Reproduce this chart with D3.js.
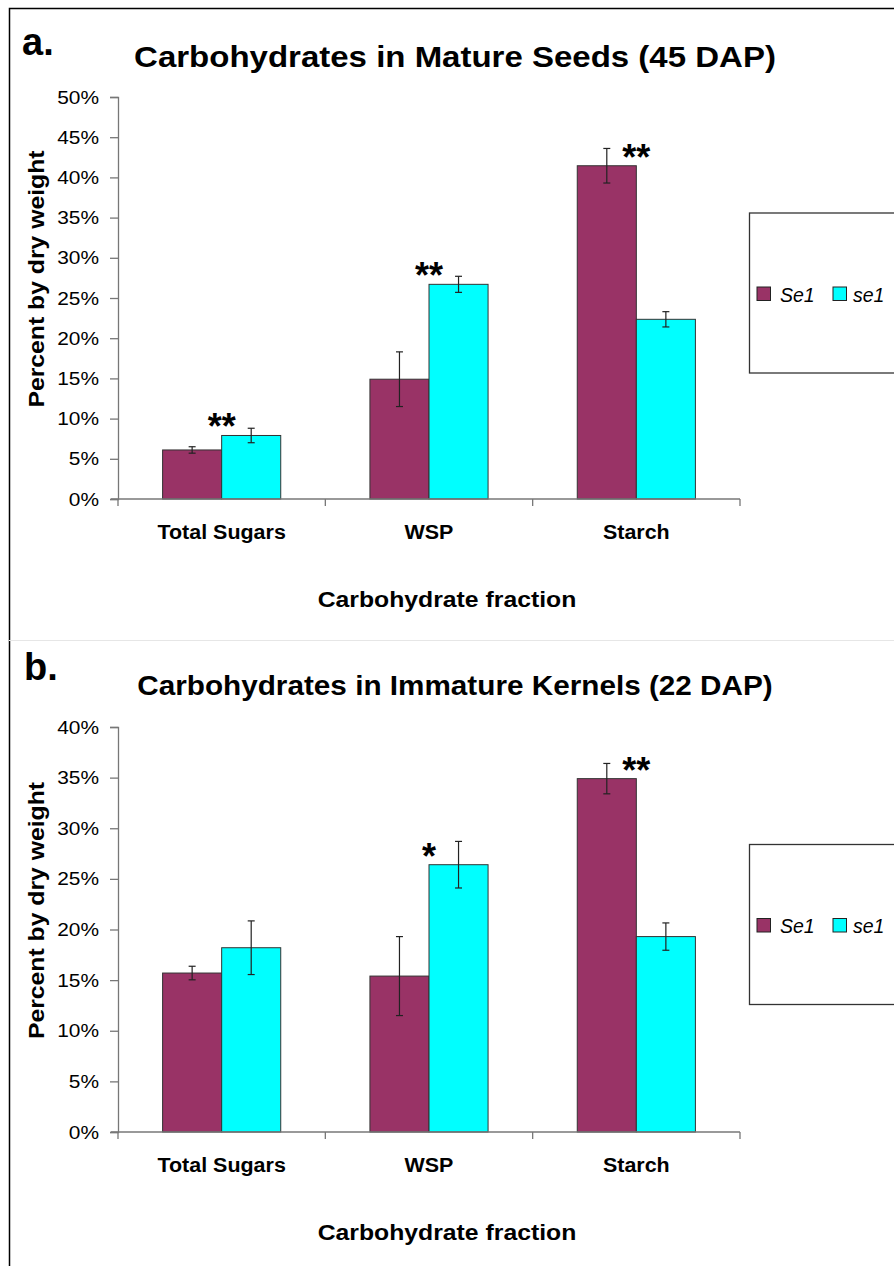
<!DOCTYPE html>
<html>
<head>
<meta charset="utf-8">
<script src="https://cdn.jsdelivr.net/npm/d3@7"></script>
<style>
  body { margin: 0; background: #fff; }
  svg { display: block; font-family: "Liberation Sans", Arial, sans-serif; }
</style>
</head>
<body>
<svg width="894" height="1266"></svg>
<script>
var categories = ['Total Sugars', 'WSP', 'Starch'];
var series = ['Se1', 'se1'];
var colors = ['#993366', '#00ffff'];

// panel a: mature seeds (45 DAP)
var matureMeans = [[6.1, 14.9, 41.45], [7.9, 26.7, 22.35]];
var matureErrs = [[0.4, 3.4, 2.15], [0.9, 1.0, 0.95]];
var matureStars = ['**', '**', '**'];
var matureTicks = [0, 5, 10, 15, 20, 25, 30, 35, 40, 45, 50];

// panel b: immature kernels (22 DAP)
var immatureMeans = [[15.7, 15.4, 34.9], [18.2, 26.4, 19.3]];
var immatureErrs = [[0.67, 3.9, 1.5], [2.65, 2.3, 1.35]];
var immatureStars = ['', '*', '**'];
var immatureTicks = [0, 5, 10, 15, 20, 25, 30, 35, 40];

var svg = d3.select('svg');

// the reference text is a bit wider than Arial, so widen it
function stretch(sel, k) {
  sel.each(function() {
    var w = this.getComputedTextLength();
    d3.select(this).attr('textLength', w * k).attr('lengthAdjust', 'spacingAndGlyphs');
  });
}

// outer frame and divider
svg.append('path')
  .attr('d', 'M9.5,1266 V8.5 H894')
  .attr('fill', 'none')
  .attr('stroke', '#000')
  .attr('stroke-width', 1.5);
svg.append('line')
  .attr('x1', 9).attr('x2', 894)
  .attr('y1', 640.5).attr('y2', 640.5)
  .attr('stroke', '#e6e6e6');

function drawPanel(p) {
  var g = svg.append('g');
  var left = 118, right = 740;

  var x0 = d3.scaleBand().domain(categories).range([left, right]);
  var x1 = d3.scaleBand().domain(series).range([0, x0.bandwidth()]).paddingOuter(0.755);
  var y = d3.scaleLinear().domain([0, d3.max(p.ticks)]).range([p.bottom, p.top]);

  // bars
  series.forEach((s, si) => {
    g.selectAll('.bar' + si)
      .data(categories)
      .enter()
      .append('rect')
      .attr('x', d => x0(d) + x1(s))
      .attr('y', (d, i) => y(p.means[si][i]))
      .attr('width', x1.bandwidth())
      .attr('height', (d, i) => y(0) - y(p.means[si][i]))
      .attr('fill', colors[si])
      .attr('stroke', '#333')
      .attr('stroke-width', 1);
  });

  // error bars
  series.forEach((s, si) => {
    categories.forEach((c, i) => {
      var cx = x0(c) + x1(s) + x1.bandwidth() / 2;
      var hi = y(p.means[si][i] + p.errs[si][i]);
      var lo = y(p.means[si][i] - p.errs[si][i]);
      var eb = g.append('g').attr('stroke', '#222').attr('stroke-width', 1.2);
      eb.append('line').attr('x1', cx).attr('x2', cx).attr('y1', hi).attr('y2', lo);
      eb.append('line').attr('x1', cx - 3.5).attr('x2', cx + 3.5).attr('y1', hi).attr('y2', hi);
      eb.append('line').attr('x1', cx - 3.5).attr('x2', cx + 3.5).attr('y1', lo).attr('y2', lo);
    });
  });

  // significance stars, centred on each group above the taller bar
  categories.forEach((c, i) => {
    if (!p.stars[i]) return;
    var tallest = d3.max(series, (s, si) => p.means[si][i]);
    g.append('text')
      .attr('x', x0(c) + x0.bandwidth() / 2)
      .attr('y', y(tallest) + 4)
      .attr('text-anchor', 'middle')
      .attr('font-size', 36)
      .attr('font-weight', 'bold')
      .text(p.stars[i]);
  });

  // y axis
  var yAxis = d3.axisLeft(y)
    .tickValues(p.ticks)
    .tickSize(8)
    .tickPadding(11)
    .tickFormat(d => d + '%');
  var ya = g.append('g').attr('transform', 'translate(' + left + ',0)').call(yAxis);
  ya.select('.domain').attr('stroke', '#777').attr('stroke-width', 1.3);
  ya.selectAll('.tick line').attr('stroke', '#777').attr('stroke-width', 1.3);
  ya.selectAll('.tick text').attr('font-size', 19).attr('fill', '#000')
    .attr('font-family', '"Liberation Sans", Arial, sans-serif')
    .call(stretch, 1.1);

  // x axis baseline with boundary ticks
  g.append('line')
    .attr('x1', left - 7).attr('x2', right)
    .attr('y1', y(0)).attr('y2', y(0))
    .attr('stroke', '#777').attr('stroke-width', 1.3);
  var bounds = categories.map(c => x0(c)).concat([right]);
  g.selectAll('.xtick')
    .data(bounds)
    .enter()
    .append('line')
    .attr('x1', d => d).attr('x2', d => d)
    .attr('y1', y(0)).attr('y2', y(0) + 7)
    .attr('stroke', '#777').attr('stroke-width', 1.3);
  g.selectAll('.xlabel')
    .data(categories)
    .enter()
    .append('text')
    .attr('x', d => x0(d) + x0.bandwidth() / 2)
    .attr('y', y(0) + 40)
    .attr('text-anchor', 'middle')
    .attr('font-size', 19.5)
    .attr('font-weight', 'bold')
    .text(d => d)
    .call(stretch, 1.1);

  // titles
  g.append('text')
    .attr('x', p.letterX).attr('y', p.letterY)
    .attr('font-size', 38).attr('font-weight', 'bold')
    .text(p.letter);
  g.append('text')
    .attr('x', 455).attr('y', p.titleY)
    .attr('text-anchor', 'middle')
    .attr('font-size', p.titleSize).attr('font-weight', 'bold')
    .text(p.title)
    .call(stretch, 1.1);
  g.append('text')
    .attr('x', 447).attr('y', y(0) + 108)
    .attr('text-anchor', 'middle')
    .attr('font-size', 22.5).attr('font-weight', 'bold')
    .text('Carbohydrate fraction')
    .call(stretch, 1.1);
  g.append('text')
    .attr('transform', 'translate(44,' + ((p.top + p.bottom) / 2 - 19) + ') rotate(-90)')
    .attr('text-anchor', 'middle')
    .attr('font-size', 22.5).attr('font-weight', 'bold')
    .text('Percent by dry weight')
    .call(stretch, 1.1);

  // legend
  var lg = g.append('g').attr('transform', 'translate(749.5,' + p.legendY + ')');
  lg.append('rect')
    .attr('width', 160).attr('height', 160)
    .attr('fill', '#fff').attr('stroke', '#333').attr('stroke-width', 1.3);
  var items = [{x: 7.5, tx: 30.5}, {x: 83.5, tx: 103.5}];
  series.forEach((s, si) => {
    lg.append('rect')
      .attr('x', items[si].x).attr('y', 74)
      .attr('width', 13.5).attr('height', 13.5)
      .attr('fill', colors[si]).attr('stroke', '#222');
    lg.append('text')
      .attr('x', items[si].tx).attr('y', 88.5)
      .attr('font-size', 19.5).attr('font-style', 'italic')
      .text(s);
  });
}

drawPanel({
  letter: 'a.', letterX: 22, letterY: 55, title: 'Carbohydrates in Mature Seeds (45 DAP)', titleY: 67, titleSize: 30,
  top: 97, bottom: 499, ticks: matureTicks,
  means: matureMeans, errs: matureErrs, stars: matureStars, legendY: 213
});
drawPanel({
  letter: 'b.', letterX: 24, letterY: 680, title: 'Carbohydrates in Immature Kernels (22 DAP)', titleY: 695, titleSize: 27,
  top: 727, bottom: 1132, ticks: immatureTicks,
  means: immatureMeans, errs: immatureErrs, stars: immatureStars, legendY: 844.5
});
</script>
</body>
</html>
